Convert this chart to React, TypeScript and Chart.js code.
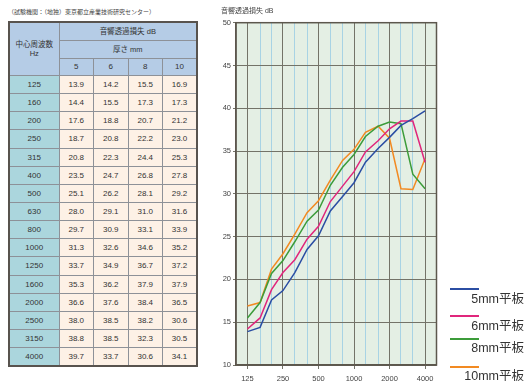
import React, { useEffect, useRef } from "react";
import { Chart, registerables } from "chart.js";

Chart.register(...registerables);

// ---- data ----
const frequencies = [125, 160, 200, 250, 315, 400, 500, 630, 800, 1000, 1250, 1600, 2000, 2500, 3150, 4000];
const thicknesses = ["5", "6", "8", "10"];
const loss5mm = [13.9, 14.4, 17.6, 18.7, 20.8, 23.5, 25.1, 28.0, 29.7, 31.3, 33.7, 35.3, 36.6, 38.0, 38.8, 39.7];
const loss6mm = [14.2, 15.5, 18.8, 20.8, 22.3, 24.7, 26.2, 29.1, 30.9, 32.6, 34.9, 36.2, 37.6, 38.5, 38.5, 33.7];
const loss8mm = [15.5, 17.3, 20.7, 22.2, 24.4, 26.8, 28.1, 31.0, 33.1, 34.6, 36.7, 37.9, 38.4, 38.2, 32.3, 30.6];
const loss10mm = [16.9, 17.3, 21.2, 23.0, 25.3, 27.8, 29.2, 31.6, 33.9, 35.2, 37.2, 37.9, 36.5, 30.6, 30.5, 34.1];
const seriesLabels = ["5mm平板", "6mm平板", "8mm平板", "10mm平板"];
const seriesColors = ["#2b4ea3", "#e0267c", "#3c9c3a", "#f28a22"];
const octaveTicks = [125, 250, 500, 1000, 2000, 4000];
const sourceNote = "（試験機関：（地独）東京都立産業技術研究センター）";
const tableTitle = "音響透過損失 dB";
const thicknessTitle = "厚さ mm";
const freqTitle = ["中心周波数", "Hz"];
const chartTitle = "音響透過損失 dB";

const allSeries = [loss5mm, loss6mm, loss8mm, loss10mm];

const FONT = "'Liberation Sans', 'Noto Sans CJK JP', sans-serif";
const DARK_GRID = "#737368";
const LIGHT_GRID = "#a8d3e4";

function ChartPanel() {
  const ref = useRef<HTMLCanvasElement | null>(null);
  useEffect(() => {
    if (!ref.current) return;
    const bgPlugin = {
      id: "bgPlugin",
      beforeDraw(chart: any) {
        const { ctx, chartArea: a } = chart;
        ctx.save();
        ctx.fillStyle = "#e4efe4";
        ctx.fillRect(a.left, a.top, a.right - a.left, a.bottom - a.top);
        ctx.restore();
      },
      afterDraw(chart: any) {
        const { ctx, chartArea: a } = chart;
        ctx.save();
        ctx.strokeStyle = "#5c574d";
        ctx.lineWidth = 1.5;
        ctx.strokeRect(a.left, a.top, a.right - a.left, a.bottom - a.top);
        // axis title
        ctx.fillStyle = "#444";
        ctx.font = `7px ${FONT}`;
        ctx.textAlign = "left";
        ctx.textBaseline = "middle";
        ctx.fillText(chartTitle, 21, 11);
        // legend
        const rows = [
          [289, 299.5],
          [316, 326.5],
          [339, 349],
          [367, 377],
        ];
        chart.data.datasets.forEach((ds: any, i: number) => {
          const [ly, ty] = rows[i];
          ctx.strokeStyle = ds.borderColor;
          ctx.lineWidth = 2;
          ctx.beginPath();
          ctx.moveTo(250, ly);
          ctx.lineTo(279, ly);
          ctx.stroke();
          ctx.fillStyle = "#333";
          ctx.font = `12.5px ${FONT}`;
          ctx.textAlign = "right";
          ctx.fillText(ds.label, 324, ty);
        });
        ctx.restore();
      },
    };
    const chart = new Chart(ref.current, {
      type: "line",
      data: {
        datasets: allSeries.map((vals, i) => ({
          label: seriesLabels[i],
          data: frequencies.map((f, j) => ({ x: f, y: vals[j] })),
          borderColor: seriesColors[i],
          backgroundColor: seriesColors[i],
          borderWidth: 1.5,
          pointRadius: 0,
          tension: 0,
          fill: false,
        })),
      },
      options: {
        animation: false,
        responsive: false,
        maintainAspectRatio: false,
        layout: { padding: { left: 0, top: 22.7, right: 92.5, bottom: 0 } },
        plugins: { legend: { display: false }, title: { display: false }, tooltip: { enabled: false } },
        scales: {
          x: {
            type: "logarithmic",
            min: 100,
            max: 5000,
            afterBuildTicks: (s: any) => {
              s.ticks = frequencies.map((v) => ({ value: v }));
            },
            afterFit: (s: any) => {
              s.height = 24;
            },
            ticks: {
              autoSkip: false,
              maxRotation: 0,
              minRotation: 0,
              padding: 5,
              color: "#444",
              font: { size: 7.5, family: FONT },
              callback: (v: any) => (octaveTicks.includes(Number(v)) ? String(v) : ""),
            },
            grid: {
              color: (c: any) => (octaveTicks.includes(c.tick?.value) ? DARK_GRID : LIGHT_GRID),
              lineWidth: 1,
              tickLength: 4,
              tickColor: (c: any) => (octaveTicks.includes(c.tick?.value) ? DARK_GRID : "rgba(0,0,0,0)"),
            },
            border: { display: true, color: "#5c574d", width: 1.5 },
          },
          y: {
            min: 10,
            max: 50,
            afterFit: (s: any) => {
              s.width = 36;
            },
            ticks: {
              stepSize: 5,
              padding: 2,
              color: "#444",
              font: { size: 7.5, family: FONT },
            },
            grid: { color: DARK_GRID, lineWidth: 1, tickLength: 3 },
            border: { display: true, color: "#5c574d", width: 1.5 },
          },
        },
      },
      plugins: [bgPlugin],
    } as any);
    return () => chart.destroy();
  }, []);
  return (
    <canvas
      ref={ref}
      width={329}
      height={389}
      style={{ position: "absolute", left: 200, top: 0, width: 329, height: 389 }}
    />
  );
}

const cellLine = "1px solid #8d9198";
const HEAD_BG = "#b5cce6";
const LABEL_BG = "#abd6dd";
const DATA_BG = "#fdf1e6";

function DataTable() {
  const base: React.CSSProperties = {
    border: cellLine,
    padding: 0,
    textAlign: "center",
    verticalAlign: "middle",
    fontSize: 8,
    color: "#333",
    lineHeight: "9px",
  };
  return (
    <table
      style={{
        position: "absolute",
        left: 8,
        top: 21,
        width: 188,
        borderCollapse: "collapse",
        tableLayout: "fixed",
        border: "2px solid #58534e",
        fontFamily: FONT,
      }}
    >
      <colgroup>
        <col style={{ width: 50 }} />
        {thicknesses.map((t) => (
          <col key={t} style={{ width: 34.5 }} />
        ))}
      </colgroup>
      <tbody>
        <tr style={{ height: 18.5 }}>
          <td rowSpan={3} style={{ ...base, background: HEAD_BG, fontSize: 7.5 }}>
            {freqTitle[0]}
            <br />
            {freqTitle[1]}
          </td>
          <td colSpan={4} style={{ ...base, background: HEAD_BG, fontSize: 7.5 }}>
            {tableTitle}
          </td>
        </tr>
        <tr style={{ height: 17.5 }}>
          <td colSpan={4} style={{ ...base, background: HEAD_BG, fontSize: 7.5 }}>
            {thicknessTitle}
          </td>
        </tr>
        <tr style={{ height: 17.5 }}>
          {thicknesses.map((t) => (
            <td key={t} style={{ ...base, background: HEAD_BG }}>
              {t}
            </td>
          ))}
        </tr>
        {frequencies.map((f, i) => (
          <tr key={f} style={{ height: 18.15 }}>
            <td style={{ ...base, background: LABEL_BG }}>{f}</td>
            {allSeries.map((s, k) => (
              <td key={k} style={{ ...base, background: DATA_BG }}>
                {s[i].toFixed(1)}
              </td>
            ))}
          </tr>
        ))}
      </tbody>
    </table>
  );
}

export default function App() {
  return (
    <div style={{ position: "absolute", left: 0, top: 0, width: 529, height: 389, background: "#fff", overflow: "hidden" }}>
      <div
        style={{
          position: "absolute",
          left: 8,
          top: 8,
          fontSize: 6,
          lineHeight: "8px",
          color: "#444",
          fontFamily: FONT,
          whiteSpace: "nowrap",
        }}
      >
        {sourceNote}
      </div>
      <DataTable />
      <ChartPanel />
    </div>
  );
}
